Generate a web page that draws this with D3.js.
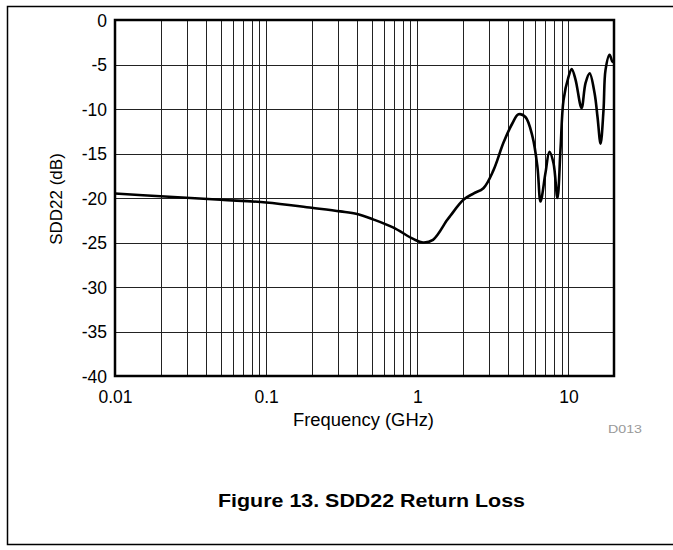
<!DOCTYPE html>
<html>
<head>
<meta charset="utf-8">
<script src="https://cdn.jsdelivr.net/npm/d3@7"></script>
<style>
  html, body { margin: 0; padding: 0; background: #fff; }
  svg { display: block; font-family: "Liberation Sans", Arial, sans-serif; }
</style>
</head>
<body>
<svg id="chart" width="673" height="550"></svg>
<script>
// Measured SDD22 return loss: frequency (GHz) and magnitude (dB)
const freqGHz = [0.01, 0.02, 0.05, 0.1, 0.2, 0.31, 0.4, 0.51, 0.69, 0.94, 1.09, 1.27, 1.57,
  1.654, 2.017, 2.349, 2.736, 3.186, 3.711, 4.257, 4.67, 5.19, 5.78, 6.23, 6.53, 7.04, 7.48,
  7.96, 8.45, 8.85, 9.27, 10.0, 10.5, 11.13, 12.2, 12.96, 13.8, 14.87, 15.56, 16.3, 17.05,
  17.58, 18.7, 19.56, 20];
const sdd22dB = [-19.5, -19.8, -20.2, -20.5, -21.1, -21.5, -21.8, -22.4, -23.3, -24.6, -25.0, -24.7, -22.5,
  -22.0, -20.2, -19.5, -18.9, -16.9, -13.8, -11.6, -10.6, -10.9, -13.1, -16.5, -20.4, -17.2, -14.8,
  -16.1, -20.0, -14.6, -9.0, -6.4, -5.5, -6.7, -9.9, -7.1, -6.0, -8.2, -10.9, -13.9, -10.1,
  -5.6, -3.9, -4.7, -4.6];

const xTickValues = [0.01, 0.1, 1, 10];
const xTickLabels = ["0.01", "0.1", "1", "10"];
const yTickValues = [0, -5, -10, -15, -20, -25, -30, -35, -40];
const yTickLabels = ["0", "-5", "-10", "-15", "-20", "-25", "-30", "-35", "-40"];

const svg = d3.select("#chart");
const plot = { left: 115, right: 614, top: 20, bottom: 376 };
const labelFont = "Liberation Sans, Arial, sans-serif";

const x = d3.scaleLog().domain([0.01, 20]).range([plot.left, plot.right]);
const y = d3.scaleLinear().domain([-40, 0]).range([plot.bottom, plot.top]);

// Page frame (open on the right)
svg.append("path")
  .attr("d", "M673,6.5 H7.5 V544.5 H673")
  .attr("fill", "none").attr("stroke", "#000").attr("stroke-width", 1.5);

// Vertical grid at every log minor step
const minorTicks = [];
for (let dec = 0.01; dec < 20; dec *= 10) {
  for (let m = 1; m <= 9; m++) {
    const v = +(dec * m).toPrecision(3);
    if (v > 0.01 && v < 20) minorTicks.push(v);
  }
}
svg.append("g").selectAll("line").data(minorTicks).join("line")
  .attr("x1", d => Math.round(x(d)) + 0.5).attr("x2", d => Math.round(x(d)) + 0.5)
  .attr("y1", plot.top).attr("y2", plot.bottom)
  .attr("stroke", "#222").attr("stroke-width", 1);

// Horizontal grid
svg.append("g").selectAll("line").data(yTickValues.slice(1, -1)).join("line")
  .attr("x1", plot.left).attr("x2", plot.right)
  .attr("y1", d => Math.round(y(d)) + 0.5).attr("y2", d => Math.round(y(d)) + 0.5)
  .attr("stroke", "#222").attr("stroke-width", 1);

// Plot border
svg.append("rect")
  .attr("x", plot.left).attr("y", plot.top)
  .attr("width", plot.right - plot.left).attr("height", plot.bottom - plot.top)
  .attr("fill", "none").attr("stroke", "#000").attr("stroke-width", 2.5);

// Axes (labels only; grid and frame drawn above)
const xAxis = d3.axisBottom(x).tickValues(xTickValues)
  .tickFormat((d, i) => xTickLabels[i]).tickSize(0).tickPadding(15);
svg.append("g").attr("transform", `translate(0,${plot.bottom})`).call(xAxis)
  .call(g => g.select(".domain").remove())
  .call(g => g.selectAll("text").attr("font-size", 17.5).attr("fill", "#000")
    .attr("font-family", labelFont));

const yAxis = d3.axisLeft(y).tickValues(yTickValues)
  .tickFormat((d, i) => yTickLabels[i]).tickSize(0).tickPadding(8);
svg.append("g").attr("transform", `translate(${plot.left},0)`).call(yAxis)
  .call(g => g.select(".domain").remove())
  .call(g => g.selectAll("text").attr("font-size", 17.5).attr("fill", "#000")
    .attr("font-family", labelFont).attr("dy", "0.35em"));

// Data curve
const line = d3.line()
  .x((d, i) => x(freqGHz[i]))
  .y(d => y(d))
  .curve(d3.curveCatmullRom.alpha(0.5));
svg.append("path")
  .datum(sdd22dB)
  .attr("d", line)
  .attr("fill", "none").attr("stroke", "#000").attr("stroke-width", 2.6)
  .attr("stroke-linejoin", "round");

// Axis titles
svg.append("text")
  .attr("x", 293).attr("y", 426)
  .attr("font-size", 17.5).attr("textLength", 141).attr("lengthAdjust", "spacingAndGlyphs")
  .text("Frequency (GHz)");
svg.append("text")
  .attr("transform", `translate(62,${(plot.top + plot.bottom) / 2 + 1}) rotate(-90)`)
  .attr("text-anchor", "middle").attr("font-size", 17).text("SDD22 (dB)");

// Drawing id
svg.append("text")
  .attr("x", 608).attr("y", 433)
  .attr("font-size", 11.5).attr("fill", "#999")
  .attr("textLength", 34).attr("lengthAdjust", "spacingAndGlyphs").text("D013");

// Caption
svg.append("text")
  .attr("x", 218).attr("y", 507)
  .attr("font-size", 18.5).attr("font-weight", "bold")
  .attr("textLength", 307).attr("lengthAdjust", "spacingAndGlyphs")
  .text("Figure 13. SDD22 Return Loss");
</script>
</body>
</html>
